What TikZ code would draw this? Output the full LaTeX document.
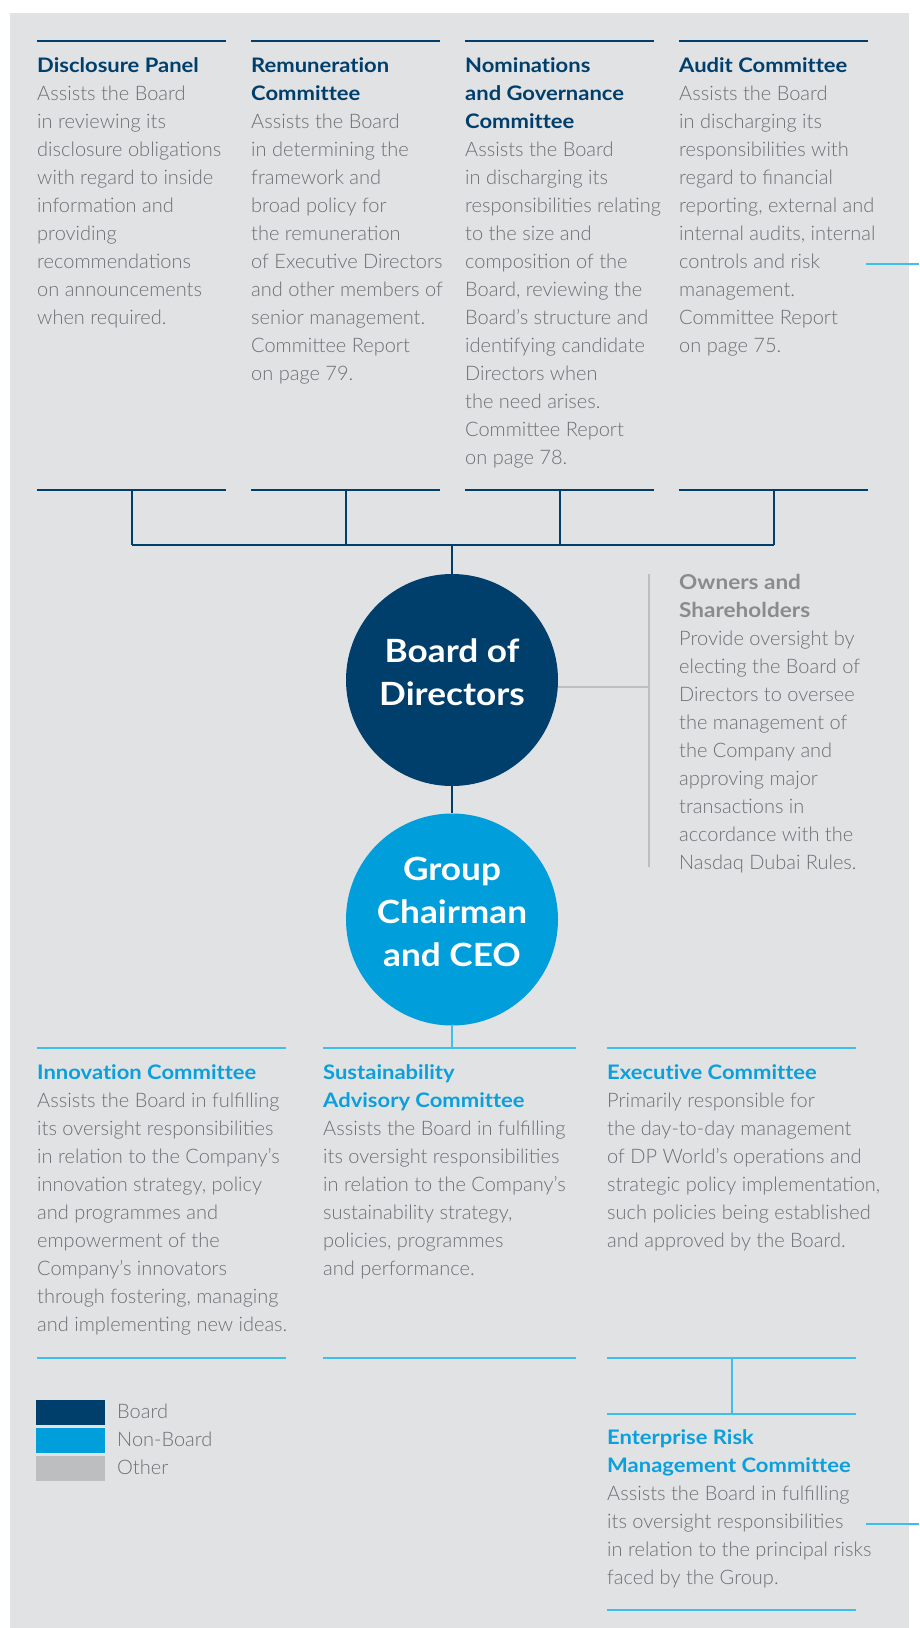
\documentclass[tikz,border=0pt]{standalone}
\usepackage{fontspec}
\setmainfont{Lato}
\newfontfamily\bodyfont{Lato Light}
\newfontfamily\headfont{Lato Bold}[FakeStretch=1.1, Ligatures=NoCommon]

\definecolor{navy}{RGB}{0,62,107}
\definecolor{skyfill}{RGB}{0,158,219}
\definecolor{skyline}{RGB}{61,190,235}
\definecolor{skyhead}{RGB}{10,160,220}
\definecolor{bodygray}{RGB}{110,111,114}
\definecolor{othergray}{RGB}{189,190,192}
\definecolor{ownhead}{RGB}{138,139,141}
\definecolor{bgpanel}{RGB}{225,226,228}

\tikzset{
  x=1pt, y=-1pt,
  body/.style={font=\bodyfont\fontsize{20}{28}\selectfont, text=bodygray, inner sep=0pt, anchor=base west},
  ownbody/.style={body},
  headnavy/.style={font=\headfont\fontsize{20}{28}\selectfont, text=navy, inner sep=0pt, anchor=base west},
  headsky/.style={headnavy, text=skyhead},
  headgray/.style={font=\headfont\fontsize{20.5}{28}\selectfont, text=ownhead, inner sep=0pt, anchor=base west},
  navyrule/.style={draw=navy, line width=2.6pt},
  navylink/.style={draw=navy, line width=2pt},
  skyrule/.style={draw=skyline, line width=2.6pt},
  skylink/.style={draw=skyline, line width=2pt},
  graylink/.style={draw=othergray, line width=2pt},
  orgcircle/.style={circle, minimum size=212pt, inner sep=0pt},
  circtext/.style={font=\headfont\fontsize{32}{43}\selectfont, text=white, align=center, inner sep=0pt},
  swatch/.style={inner sep=0pt, minimum width=69pt, minimum height=25pt, anchor=north west},
}

% one node per printed line, baselines 28pt apart
\newcommand\txtlines[5]{%
  \foreach \ln [count=\k] in {#5} {
    \node[#2] (#1\k) at (#3, {#4+28*(\k-1)}) {\ln};
  }%
}

\begin{document}
\begin{tikzpicture}
\useasboundingbox (0,0) rectangle (919,1628);
\fill[bgpanel] (10,13) rectangle (909,1628);

% ---------- board committees (top row) ----------
\foreach \cx [count=\i] in {37,251,465,679} {
  \coordinate (ttop\i) at (\cx,41);
  \coordinate (tbotL\i) at (\cx,490);
  \coordinate (tbotR\i) at ({\cx+189},490);
  \coordinate (tmid\i) at ({\cx+94.5},490);
  \draw[navyrule] (ttop\i) -- ++(189,0);
  \draw[navyrule] (tbotL\i) -- (tbotR\i);
}

\txtlines{dpT}{headnavy}{37}{72}{Disclosure Panel}
\txtlines{dpB}{body}{37}{100}{Assists the Board, in reviewing its, disclosure obligations, with regard to inside, information and, providing, recommendations, on announcements, when required.}

\txtlines{remT}{headnavy}{251}{72}{Remuneration, Committee}
\txtlines{remB}{body}{251}{128}{Assists the Board, in determining the, framework and, broad policy for, the remuneration, of Executive Directors, and other members of, senior management., Committee Report, on page 79.}

\txtlines{nomT}{headnavy}{465}{72}{Nominations, and Governance, Committee}
\txtlines{nomB}{body}{465}{156}{Assists the Board, in discharging its, responsibilities relating, to the size and, composition of the, {Board, reviewing the}, Board’s structure and, identifying candidate, Directors when, the need arises., Committee Report, on page 78.}

\txtlines{audT}{headnavy}{679}{72}{Audit Committee}
\txtlines{audB}{body}{679}{100}{Assists the Board, in discharging its, responsibilities with, regard to financial, {reporting, external and}, {internal audits, internal}, controls and risk, management., Committee Report, on page 75.}

% outgoing stub on the right
\coordinate (auditout) at (866,264);
\coordinate (auditedge) at (919,264);
\draw[skyrule] (auditout) -- (auditedge);

% ---------- central spine ----------
\node[orgcircle, fill=navy] (board) at (452,680) {};
\node[circtext] (boardtxt) at (452,672) {Board of\\Directors};
\node[orgcircle, fill=skyfill] (ceo) at (452,919.5) {};
\node[circtext] (ceotxt) at (452,912) {Group\\Chairman\\and CEO};

\coordinate (barL) at (tmid1 |- 0,545);
\coordinate (barR) at (tmid4 |- 0,545);
\coordinate (barC) at (board.north |- 0,545);
\foreach \i in {1,...,4} { \draw[navylink] (tmid\i) -- (tmid\i |- barL); }
\draw[navylink] (barL) -- (barR);
\draw[navylink] (barC) -- (board.north);
\draw[navylink] (board.south) -- (ceo.north);

% ---------- owners and shareholders ----------
\coordinate (ownTop) at (649,574);
\coordinate (ownBot) at (649,867);
\coordinate (ownJoin) at (649,687);
\draw[graylink] (ownTop) -- (ownBot);
\draw[graylink] ([yshift=-7pt]board.east) -- (ownJoin);
\txtlines{ownT}{headgray}{679}{589}{Owners and, Shareholders}
\txtlines{ownB}{ownbody}{679}{645}{Provide oversight by, electing the Board of, Directors to oversee, the management of, the Company and, approving major, transactions in, accordance with the, Nasdaq Dubai Rules.}

% ---------- non-board committees ----------
\coordinate (bAL) at (37,1048);  \coordinate (bAR) at (286,1048);
\coordinate (bBL) at (323,1048); \coordinate (bBR) at (576,1048);
\coordinate (bCL) at (607,1048); \coordinate (bCR) at (856,1048);
\draw[skyrule] (bAL) -- (bAR);
\draw[skyrule] (bBL) -- (bBR);
\draw[skyrule] (bCL) -- (bCR);
\draw[skylink] (ceo.south) -- (ceo.south |- bBL);

\txtlines{innT}{headsky}{37}{1079}{Innovation Committee}
\txtlines{innB}{body}{37}{1107}{Assists the Board in fulfilling, its oversight responsibilities, in relation to the Company’s, {innovation strategy, policy}, and programmes and, empowerment of the, Company’s innovators, {through fostering, managing}, and implementing new ideas.}

\txtlines{susT}{headsky}{323}{1079}{Sustainability, Advisory Committee}
\txtlines{susB}{body}{323}{1135}{Assists the Board in fulfilling, its oversight responsibilities, in relation to the Company’s, {sustainability strategy,}, {policies, programmes}, and performance.}

\txtlines{exeT}{headsky}{607}{1079}{Executive Committee}
\txtlines{exeB}{body}{607}{1107}{Primarily responsible for, the day-to-day management, of DP World’s operations and, {strategic policy implementation,}, such policies being established, and approved by the Board.}

\coordinate (lAL) at (37,1358);  \coordinate (lAR) at (286,1358);
\coordinate (lBL) at (323,1358); \coordinate (lBR) at (576,1358);
\coordinate (lCL) at (607,1358); \coordinate (lCR) at (856,1358);
\draw[skyrule] (lAL) -- (lAR);
\draw[skyrule] (lBL) -- (lBR);
\draw[skyrule] (lCL) -- (lCR);

% enterprise risk management
\coordinate (ermL) at (607,1414); \coordinate (ermR) at (856,1414);
\coordinate (ermBL) at (607,1610); \coordinate (ermBR) at (856,1610);
\draw[skyrule] (ermL) -- (ermR);
\draw[skyrule] (ermBL) -- (ermBR);
\draw[skylink] (731.5,1358) coordinate (exeMid) -- (exeMid |- ermL);
\txtlines{ermT}{headsky}{607}{1444}{Enterprise Risk, Management Committee}
\txtlines{ermB}{body}{607}{1500}{Assists the Board in fulfilling, its oversight responsibilities, in relation to the principal risks, faced by the Group.}
\coordinate (ermout) at (866,1524);
\coordinate (ermedge) at (919,1524);
\draw[skyrule] (ermout) -- (ermedge);

% ---------- legend ----------
\node[swatch, fill=navy] (lgBoard) at (36,1400) {};
\node[swatch, fill=skyfill] (lgNon) at (36,1428) {};
\node[swatch, fill=othergray] (lgOther) at (36,1456) {};
\node[body] (lgBoardT) at (117,1418) {Board};
\node[body] (lgNonT) at (117,1446) {Non-Board};
\node[body] (lgOtherT) at (117,1474) {Other};
\end{tikzpicture}
\end{document}
